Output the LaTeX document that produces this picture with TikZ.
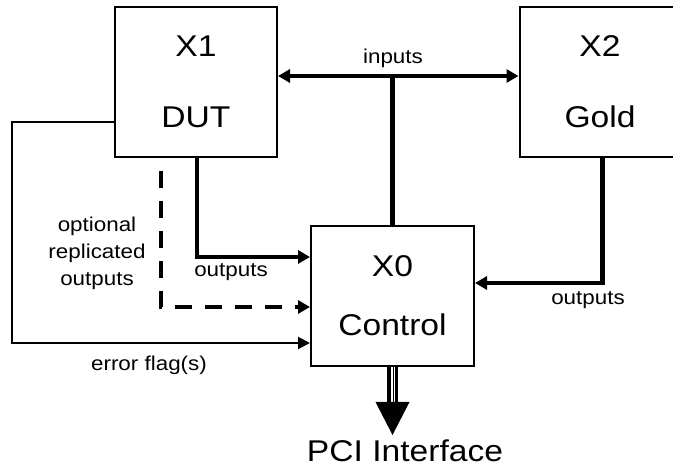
\documentclass[tikz,border=0pt]{standalone}
\usepackage{fontspec}
\newfontfamily\labfont[FakeStretch=1.12]{Liberation Sans}
\usetikzlibrary{arrows.meta}
\tikzset{
  blk/.style={draw, line width=2pt, rectangle, inner sep=0pt, align=center,
    font=\labfont\fontsize{30}{71}\selectfont},
  lbl/.style={inner sep=0pt, align=center, font=\labfont\fontsize{20}{27}\selectfont},
  thickline/.style={line width=4.5pt, -{Triangle[length=12pt,width=13pt]}},
  thinline/.style={line width=2pt, -{Triangle[length=12pt,width=12pt]}},
  dashline/.style={line width=4.5pt, dash pattern=on 17pt off 13pt, -{Triangle[length=12pt,width=13pt]}},
}
\begin{document}
\begin{tikzpicture}[x=1pt,y=-1pt]
\useasboundingbox[fill=white] (0,0) rectangle (673,470);
% blocks
\node[blk, minimum width=162pt, minimum height=150pt] (x1) at (196,82) {X1\\DUT};
\node[blk, minimum width=161pt, minimum height=150pt] (x2) at (600,82) {X2\\Gold};
\node[blk, minimum width=163pt, minimum height=140pt,
  font=\labfont\fontsize{30}{59}\selectfont] (x0) at (392.5,296) {X0\\Control};
% labels
\node[lbl] (lin) at (393,58) {inputs};
\node[lbl] (lout1) at (231,272) {outputs};
\node[lbl] (lout2) at (588,300) {outputs};
\node[lbl] (lopt) at (97,253) {optional\\replicated\\outputs};
\node[lbl] (lerr) at (149,365) {error flag(s)};
\node[inner sep=0pt, anchor=base, font=\labfont\fontsize{30}{30}\selectfont] (pci) at (405,462) {PCI Interface};
% inputs bus
\coordinate (jn) at (392.5,76);
\draw[line width=4.5pt, {Triangle[length=12pt,width=13pt]}-{Triangle[length=12pt,width=13pt]}]
  (x1.east |- jn) -- (x2.west |- jn);
\draw[line width=4.5pt] (jn) -- (x0.north);
% DUT outputs
\draw[thickline] ([xshift=1pt]x1.south) |- ([yshift=39pt]x0.west);
% optional replicated outputs
\draw[dashline] ([xshift=-35pt,yshift=-13pt]x1.south) |- ([yshift=-11pt]x0.west);
% error flags
\coordinate (ef) at (12,122);
\draw[thinline] ([yshift=-40pt]x1.west) -- (ef) |- ([yshift=-47pt]x0.west);
% Gold outputs
\draw[thickline] ([xshift=2.5pt]x2.south) |- ([yshift=13pt]x0.east);
% PCI arrow
\coordinate (tip) at (392.5,435);
\draw[line width=11pt] (x0.south) -- ([yshift=33pt]tip);
\draw[white, line width=1.6pt] ([xshift=-0.8pt]x0.south) -- ([xshift=-0.8pt,yshift=33pt]tip);
\draw[white, line width=1.2pt] ([xshift=2.3pt]x0.south) -- ([xshift=2.3pt,yshift=33pt]tip);
\fill (tip) -- ++(-17,-33) -- ++(34,0) -- cycle;
\end{tikzpicture}
\end{document}
